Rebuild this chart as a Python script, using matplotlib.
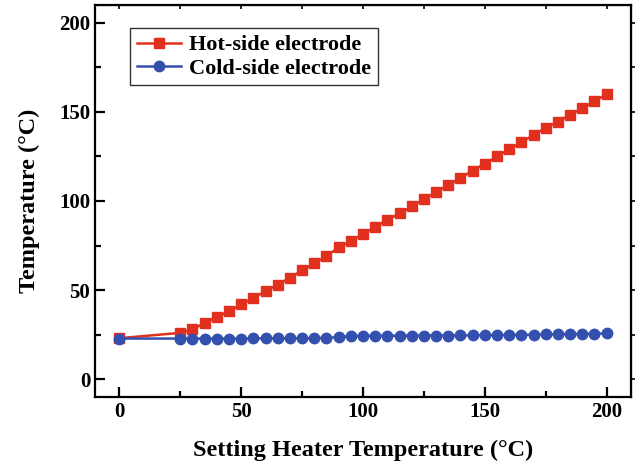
import matplotlib
matplotlib.use("Agg")
import matplotlib.pyplot as plt
from matplotlib.ticker import MultipleLocator

setting_temp = [0, 25, 30, 35, 40, 45, 50, 55, 60, 65, 70, 75, 80, 85, 90, 95, 100,
                105, 110, 115, 120, 125, 130, 135, 140, 145, 150, 155, 160, 165, 170,
                175, 180, 185, 190, 195, 200]
hot_side = [23, 26, 28, 31.5, 35, 38, 42, 45.5, 49.5, 53, 57, 61, 65, 69, 74, 77.5, 81.5,
            85.5, 89.5, 93, 97, 101, 105, 109, 113, 117, 121, 125, 129, 133, 137,
            141, 144.5, 148.5, 152, 156, 160]
cold_side = [22.8, 22.8, 22.8, 22.8, 22.8, 22.8, 22.8, 22.9, 22.9, 23, 23, 23, 23, 23.2, 23.6, 24.2, 24.3,
             24.3, 24.4, 24.4, 24.4, 24.5, 24.5, 24.5, 24.6, 24.6, 24.7, 24.8, 24.8, 24.9, 25,
             25.1, 25.2, 25.3, 25.4, 25.5, 25.7]

plt.rcParams['font.family'] = ['Liberation Serif', 'DejaVu Serif']
plt.rcParams['font.weight'] = 'bold'

fig = plt.figure(figsize=(6.37, 4.68), dpi=100)
ax = fig.add_axes([95/637, 1 - 397/468, (631-95)/637, (397-5)/468])

red = '#E2301F'
blue = '#3450AE'
ax.plot(setting_temp, hot_side, color=red, marker='s', markersize=7, linewidth=1.8,
        label='Hot-side electrode')
ax.plot(setting_temp, cold_side, color=blue, marker='o', markersize=7.5, linewidth=1.8,
        label='Cold-side electrode')

ax.set_xlim(-10, 210)
ax.set_ylim(-10, 210)
ax.xaxis.set_major_locator(MultipleLocator(50))
ax.xaxis.set_minor_locator(MultipleLocator(25))
ax.yaxis.set_major_locator(MultipleLocator(50))
ax.yaxis.set_minor_locator(MultipleLocator(25))

for s in ax.spines.values():
    s.set_linewidth(1.6)

ax.tick_params(axis='both', which='major', direction='in', length=7, width=1.6,
               labelsize=15, top=False, right=False)
ax.tick_params(axis='both', which='minor', direction='in', length=4, width=1.6,
               top=False, right=False)

# top ticks inward, right ticks outward
axt = ax.secondary_xaxis('top')
axt.xaxis.set_major_locator(MultipleLocator(25))
axt.tick_params(direction='in', length=3, width=1.2, labeltop=False)
axt.set_xticklabels([])
axr = ax.secondary_yaxis('right')
axr.yaxis.set_major_locator(MultipleLocator(25))
axr.tick_params(direction='out', length=3, width=1.2, labelright=False)
axr.set_yticklabels([])

ax.set_xlabel('Setting Heater Temperature (°C)', fontsize=17.5, fontweight='bold', labelpad=13)
ax.set_ylabel('Temperature (°C)', fontsize=17.5, fontweight='bold', labelpad=14)

leg = ax.legend(loc='upper left', bbox_to_anchor=(0.065, 0.941), fontsize=16,
                frameon=True, fancybox=False, handlelength=2.0, borderpad=0.3,
                labelspacing=0.12, handletextpad=0.35, borderaxespad=0)
leg.get_frame().set_edgecolor('black')
leg.get_frame().set_linewidth(1.0)

fig.savefig('out.png', dpi=100)
